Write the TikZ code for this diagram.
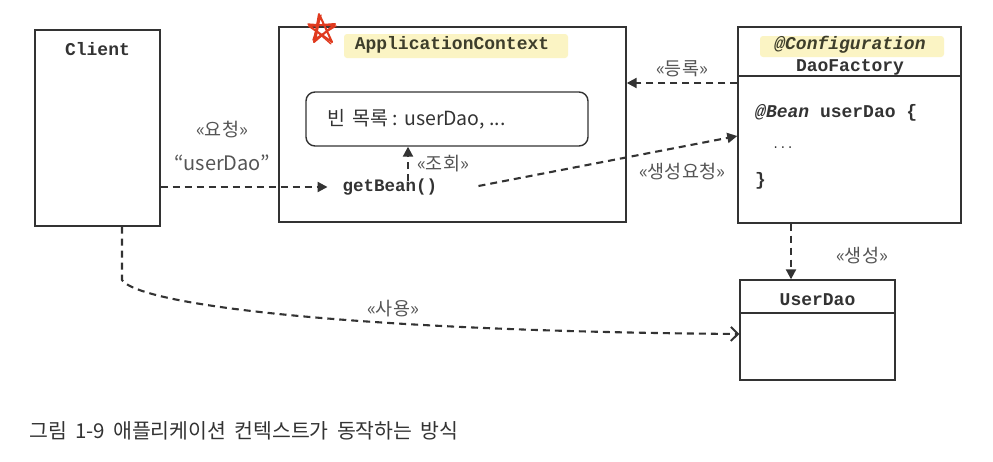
\documentclass[tikz,border=0pt]{standalone}
\usepackage{fontspec}
\setmainfont{Noto Sans CJK KR}
\setmonofont{Liberation Mono}
\newfontfamily\kr{Noto Sans CJK KR}
\usetikzlibrary{arrows.meta,calc}
\definecolor{ln}{HTML}{333333}
\definecolor{lbl}{HTML}{555555}
\definecolor{hl}{HTML}{FBF4C4}
\definecolor{star}{HTML}{E03A1E}
\begin{document}
\begin{tikzpicture}[x=1pt,y=-1pt,
  box/.style={draw=ln,line width=1.4pt,inner sep=0pt},
  mono/.style={font=\fontsize{18}{20}\selectfont\ttfamily\bfseries,text=ln,inner sep=0pt},
  lab/.style={font=\kr\fontsize{18.5}{20}\selectfont,text=lbl,inner sep=0pt},
  dsh/.style={draw=ln,line width=2.1pt,dash pattern=on 7pt off 5pt},
  tri/.style={-{Triangle[length=10pt,width=10pt]}},
  barb/.style={-{Straight Barb[length=7pt,width=14pt,line width=2pt]}}
]
\path[use as bounding box,fill=white] (0,0) rectangle (993,461);

% highlights
\fill[hl,rounded corners=3pt] (344,34) rectangle (568,58);
\fill[hl,rounded corners=3pt] (760,36) rectangle (944,57);

% boxes
\node[box,minimum width=125pt,minimum height=196pt] (client) at (97.5,128) {};
\node[box,minimum width=347pt,minimum height=195pt] (app) at (452.5,124.5) {};
\node[box,rounded corners=9pt,minimum width=282pt,minimum height=54pt] (beans) at (447,119) {};
\node[box,minimum width=223pt,minimum height=196pt] (dao) at (849.5,125) {};
\node[box,minimum width=155pt,minimum height=100pt] (ud) at (817.5,330) {};
\draw[ln,line width=1.4pt] (dao.west |- 0,76) coordinate (daosepL) -- (dao.east |- 0,76);
\draw[ln,line width=1.4pt] (ud.west |- 0,313) -- (ud.east |- 0,313);

% texts
\node[mono] (clientT) at (97.5,49) {Client};
\node[mono,text=ln!85!olive] (appT) at (452,45) {ApplicationContext};
\node[anchor=west,font=\kr\fontsize{19.5}{22}\selectfont,text=ln,inner sep=0pt] (beansT) at (327,119) {빈\, 목록 : userDao, ...};
\node[mono,font=\fontsize{17.5}{20}\selectfont\ttfamily\bfseries] (gb) at (390,187) {getBean()};
\node[mono,font=\fontsize{18}{20}\selectfont\ttfamily\bfseries\itshape,text=ln!85!olive] (conf) at (850,45) {@Configuration};
\node[mono] (daoT) at (850,67) {DaoFactory};
\node[mono,anchor=west] (bean) at (755,113) {\textit{@Bean} userDao \{};
\node[mono,anchor=west,font=\fontsize{12}{14}\selectfont\ttfamily] (dots) at (772,148) {...};
\node[mono,anchor=west] (close) at (755,181) {\}};
\node[mono] (udT) at (817.5,300) {UserDao};

% labels
\node[lab] (l1) at (222,130) {«요청»};
\node[lab,font=\kr\fontsize{20}{22}\selectfont] (l2) at (222,163) {“userDao”};
\node[lab] (l3) at (443,164) {«조회»};
\node[lab] (l4) at (682,69) {«등록»};
\node[lab] (l5) at (682,172) {«생성요청»};
\node[lab] (l6) at (862,256) {«생성»};
\node[lab] (l7) at (393,309) {«사용»};

% connectors
\draw[dsh,tri] (client.east |- gb.west) -- ($(gb.west)+(-15,0)$) coordinate (gbin);
\draw[dsh,tri] (408,181) coordinate (up0) -- (beans.south -| up0);
\draw[dsh,tri] (dao.west |- 0,83) coordinate (reg0) -- (app.east |- reg0);
\draw[dsh,tri] ($(gb.east)+(41,-1)$) coordinate (req0) -- (dao.west |- 0,136);
\draw[dsh,tri] (dao.south -| 791,0) coordinate (mk0) -- (ud.north -| mk0);
\draw[dsh,barb] (client.south -| 122,0) coordinate (use0) -- (122,280)
   .. controls (140,305) and (350,331) .. (ud.west |- 0,334);

% star (hand-drawn look)
\begin{scope}[shift={(323,30)}]
\draw[star,line width=2pt,line join=round,line cap=round]
  (-4,-16) -- (-9,12) -- (12,-6) -- (-14,-4) -- (9,12) -- (-3,-14) -- (-8,11);
\draw[star,line width=1.3pt,line join=round,line cap=round]
  (-2,-15) -- (-10,10) -- (13,-4) -- (-15,-6) -- (8,14);
\end{scope}

% caption
\node[anchor=west,font=\kr\fontsize{20.5}{24}\selectfont,text=ln,inner sep=0pt] (cap) at (29,431) {\spaceskip=0.4em\relax 그림 1-9 애플리케이션 컨텍스트가 동작하는 방식};
\end{tikzpicture}
\end{document}
